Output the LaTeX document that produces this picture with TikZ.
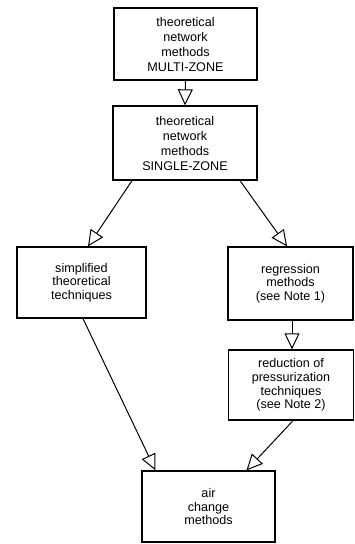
\documentclass[tikz,border=0pt]{standalone}
\usepackage{fontspec}
\setmainfont{Liberation Sans}
\usetikzlibrary{arrows.meta}
\begin{document}
\begin{tikzpicture}[x=1pt,y=-1pt,
  box/.style={draw, line width=1.3pt, rectangle, align=center, inner sep=0pt,
    font=\fontsize{12.6}{13.6}\selectfont},
  wide/.style={font=\fontsize{12.6}{15}\selectfont},
  conn/.style={line width=1pt, -{Triangle[open, length=16pt, width=15pt, line width=1pt]}}]
\useasboundingbox (0,0) rectangle (355,544);
\node[box, wide, minimum width=143pt, minimum height=72pt] (b1) at (185.5,44) {theoretical\\network\\methods\\MULTI-ZONE};
\node[box, wide, minimum width=144pt, minimum height=74pt] (b2) at (185,143) {theoretical\\network\\methods\\SINGLE-ZONE};
\node[box, minimum width=129pt, minimum height=71pt] (b3) at (81.5,282.5) {simplified\\theoretical\\techniques};
\node[box, minimum width=125pt, minimum height=73pt] (b4) at (290.5,283.5) {regression\\methods\\(see Note 1)};
\node[box, minimum width=125pt, minimum height=70pt] (b5) at (291,385) {reduction of\\pressurization\\techniques\\(see Note 2)};
\node[box, minimum width=133pt, minimum height=71pt] (b6) at (208.5,506.5) {air\\change\\methods};
\draw[conn] (b1.south) -- (b2.north);
\draw[conn] ([xshift=-53pt]b2.south) -- ([xshift=6.5pt]b3.north);
\draw[conn] ([xshift=55pt]b2.south) -- ([xshift=-3.5pt]b4.north);
\draw[conn] ([xshift=1.5pt]b4.south) -- ([xshift=1pt]b5.north);
\draw[conn] ([xshift=1.5pt]b3.south) -- ([xshift=-53pt]b6.north);
\draw[conn] ([xshift=2pt]b5.south) -- ([xshift=38pt]b6.north);
\end{tikzpicture}
\end{document}
